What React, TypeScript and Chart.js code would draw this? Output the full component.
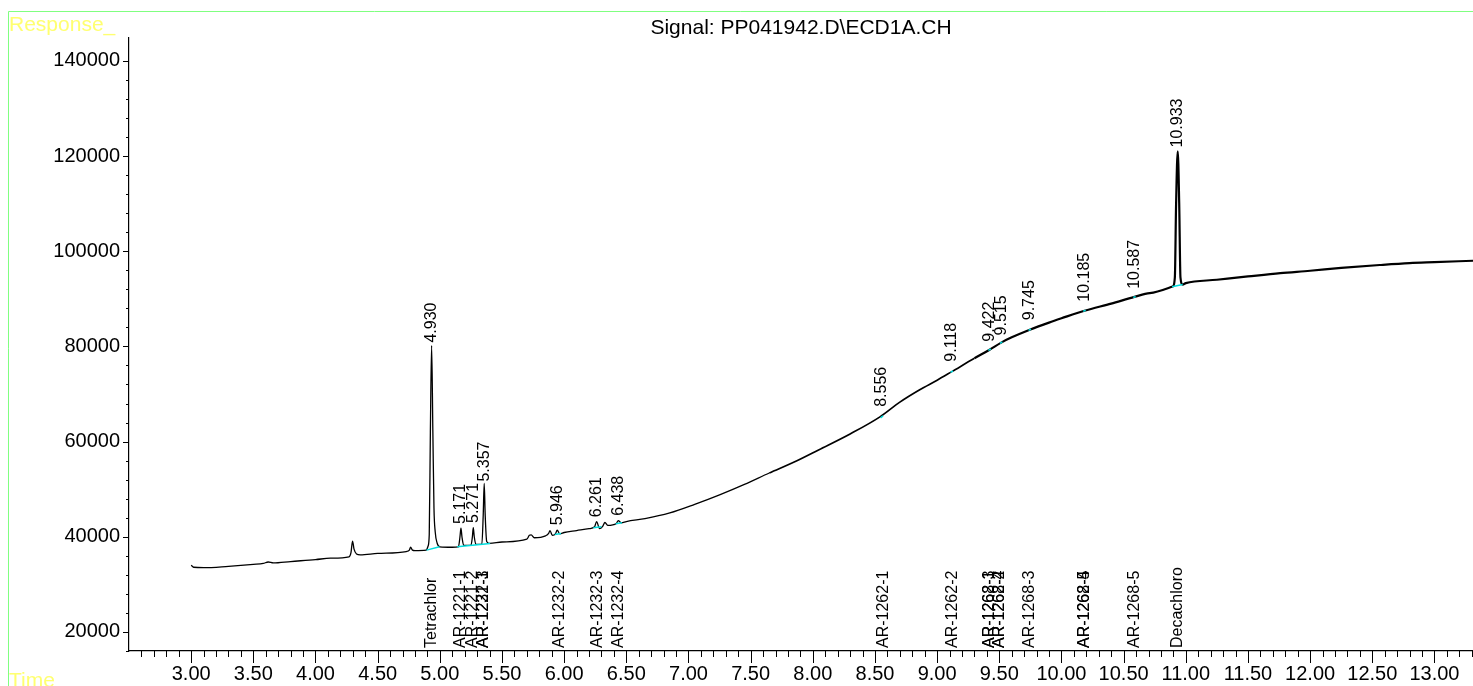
import React, { useEffect, useRef } from 'react';
import { Chart, registerables } from 'chart.js';

Chart.register(...registerables);

const TITLE = 'Signal: PP041942.D\\ECD1A.CH';
const Y_LABEL = 'Response_';
const X_LABEL = 'Time';
const FONT = '"Liberation Sans", Arial, sans-serif';

// chromatogram trace (time in min, response)
const times = [
  3.0, 3.02, 3.1, 3.3, 3.5, 3.58, 3.62, 3.66, 3.8, 4.0, 4.12, 4.27, 4.285, 4.298, 4.31, 4.33, 4.36, 4.5,
  4.73, 4.755, 4.765, 4.78, 4.8, 4.89, 4.905, 4.915, 4.924, 4.934, 4.944, 4.953, 4.963, 4.978, 5.0,
  5.1, 5.15, 5.162, 5.17, 5.178, 5.192, 5.25, 5.262, 5.269, 5.277, 5.29, 5.338, 5.349, 5.357, 5.365,
  5.377, 5.4, 5.5, 5.7, 5.72, 5.735, 5.76, 5.85, 5.875, 5.886, 5.905, 5.93, 5.944, 5.965, 6.0, 6.1,
  6.2, 6.245, 6.261, 6.285, 6.31, 6.328, 6.35, 6.42, 6.435, 6.46, 6.5, 6.65, 6.85, 7.05, 7.25, 7.45,
  7.65, 7.85, 8.05, 8.3, 8.54, 8.7, 8.86, 9.0, 9.118, 9.3, 9.422, 9.515, 9.6, 9.745, 9.9, 10.0, 10.185,
  10.4, 10.587, 10.71, 10.895, 10.912, 10.922, 10.935, 10.947, 10.957, 10.975, 11.0, 11.25, 11.5,
  11.76, 12.0, 12.25, 12.56, 12.8, 13.0, 13.31,
];
const responses = [
  34000, 33600, 33500, 33800, 34200, 34400, 34700, 34500, 34800, 35200, 35500, 35800, 36600, 39100, 37400, 36400, 36200, 36500,
  36900, 37200, 37800, 37200, 37100, 37200, 38000, 40500, 62000, 80200, 62000, 46000, 41000, 38700, 37900,
  37800, 37900, 40000, 41800, 40000, 38200, 38200, 40000, 41900, 40000, 38400, 38400, 44500, 51200, 44500,
  39000, 38600, 38900, 39500, 40300, 40400, 39800, 40200, 40700, 41300, 40300, 40600, 41400, 40600, 40900, 41300,
  41700, 42100, 43200, 41700, 42200, 43000, 42400, 42800, 43400, 42900, 43200, 43800, 45000, 46800, 48800, 51000,
  53400, 55700, 58300, 61600, 65200, 68300, 70900, 72900, 74700, 77500, 79300, 80800, 81900, 83500, 85000, 85900, 87500,
  89000, 90400, 91200, 92600, 94500, 110000, 121000, 110000, 94500, 93000, 93300, 94000, 94700,
  95400, 95900, 96500, 97100, 97500, 97700, 98000,
];

// integration baselines (cyan)
const baseStartTimes = [4.893, 5.14, 5.925, 6.235, 6.415, 8.545, 9.108, 9.412, 9.505, 9.735, 10.175, 10.577, 10.89];
const baseStartResp = [37200, 37900, 40500, 41900, 42750, 65000, 74550, 79150, 80650, 83400, 87400, 90350, 92550];
const baseEndTimes = [4.998, 5.405, 5.975, 6.3, 6.465, 8.565, 9.128, 9.432, 9.525, 9.755, 10.195, 10.597, 10.975];
const baseEndResp = [37900, 38600, 40700, 42100, 42950, 65400, 74850, 79450, 80950, 83600, 87600, 90450, 93000];

// retention time labels
const peakTimes = [4.93, 5.171, 5.271, 5.357, 5.946, 6.261, 6.438, 8.556, 9.118, 9.422, 9.515, 9.745, 10.185, 10.587, 10.933];
const peakLabels = ['4.930', '5.171', '5.271', '5.357', '5.946', '6.261', '6.438', '8.556', '9.118', '9.422', '9.515', '9.745', '10.185', '10.587', '10.933'];
const peakLabelResp = [80800, 42700, 42900, 51600, 42400, 44100, 44400, 67300, 76800, 81000, 82300, 85500, 89400, 92100, 121800];

// compound names at the bottom
const compoundNames = [
  'Tetrachlor', 'AR-1221-1', 'AR-1221-2', 'AR-1221-3', 'AR-1232-1', 'AR-1232-2', 'AR-1232-3', 'AR-1232-4',
  'AR-1262-1', 'AR-1262-2', 'AR-1262-3', 'AR-1268-1', 'AR-1262-4', 'AR-1268-2', 'AR-1268-3', 'AR-1262-5',
  'AR-1268-4', 'AR-1268-5', 'Decachloro',
];
const compoundTimes = [
  4.93, 5.171, 5.262, 5.352, 5.352, 5.962, 6.27, 6.438,
  8.566, 9.126, 9.418, 9.418, 9.506, 9.506, 9.745, 10.185,
  10.185, 10.587, 10.933,
];

const xTickValues = [3, 3.5, 4, 4.5, 5, 5.5, 6, 6.5, 7, 7.5, 8, 8.5, 9, 9.5, 10, 10.5, 11, 11.5, 12, 12.5, 13];
const xTickLabels = ['3.00', '3.50', '4.00', '4.50', '5.00', '5.50', '6.00', '6.50', '7.00', '7.50', '8.00', '8.50', '9.00', '9.50', '10.00', '10.50', '11.00', '11.50', '12.00', '12.50', '13.00'];
const yTickValues = [20000, 40000, 60000, 80000, 100000, 120000, 140000];
const yTickLabels = ['20000', '40000', '60000', '80000', '100000', '120000', '140000'];

const X_MIN = 2.5;
const X_MAX = 13.31;
const Y_MIN = 16000;
const Y_MAX = 144800;

const decorPlugin = {
  id: 'decor',
  beforeDraw(chart: any) {
    const { ctx, chartArea } = chart;
    ctx.save();
    ctx.strokeStyle = '#80ff80';
    ctx.lineWidth = 1;
    ctx.beginPath();
    ctx.moveTo(8.5, 686);
    ctx.lineTo(8.5, 11.5);
    ctx.lineTo(1473, 11.5);
    ctx.stroke();
    ctx.fillStyle = '#ffff70';
    ctx.font = `21px ${FONT}`;
    ctx.textAlign = 'left';
    ctx.textBaseline = 'alphabetic';
    ctx.fillText(Y_LABEL, 9, 31);
    ctx.fillText(X_LABEL, 9, 687);
    ctx.fillStyle = '#000';
    ctx.font = `21px ${FONT}`;
    ctx.textAlign = 'center';
    ctx.fillText(TITLE, (chartArea.left + chartArea.right) / 2, 34);
    ctx.restore();
  },
  afterDraw(chart: any) {
    const { ctx, chartArea } = chart;
    const xs = chart.scales.x;
    const ys = chart.scales.y;
    ctx.save();
    ctx.strokeStyle = '#000';
    ctx.lineWidth = 1;
    ctx.beginPath();
    for (let i = 26; i <= 133; i++) {
      const px = Math.round(xs.getPixelForValue(i / 10)) + 0.5;
      const len = i % 5 === 0 ? 12 : 6;
      ctx.moveTo(px, chartArea.bottom);
      ctx.lineTo(px, chartArea.bottom + len);
    }
    for (let v = 16000; v <= 140000; v += 4000) {
      const py = Math.round(ys.getPixelForValue(v)) + 0.5;
      const len = v % 20000 === 0 ? 6 : 3;
      ctx.moveTo(chartArea.left, py);
      ctx.lineTo(chartArea.left - len, py);
    }
    ctx.stroke();

    ctx.fillStyle = '#000';
    ctx.font = `16px ${FONT}`;
    ctx.textAlign = 'left';
    ctx.textBaseline = 'middle';
    peakLabels.forEach((lab, i) => {
      const px = xs.getPixelForValue(peakTimes[i]);
      const py = ys.getPixelForValue(peakLabelResp[i]);
      ctx.save();
      ctx.translate(px, py);
      ctx.rotate(-Math.PI / 2);
      ctx.fillText(lab, 0, 0);
      ctx.restore();
    });
    compoundNames.forEach((name, i) => {
      const px = xs.getPixelForValue(compoundTimes[i]);
      ctx.save();
      ctx.translate(px, chartArea.bottom - 3);
      ctx.rotate(-Math.PI / 2);
      ctx.fillText(name, 0, 0);
      ctx.restore();
    });
    ctx.restore();
  },
};

export default function App() {
  const ref = useRef<HTMLCanvasElement | null>(null);
  useEffect(() => {
    if (!ref.current) return;
    const trace = times.map((t, i) => ({ x: t, y: responses[i] }));
    const base: any[] = [];
    baseStartTimes.forEach((t, i) => {
      base.push({ x: t, y: baseStartResp[i] });
      base.push({ x: baseEndTimes[i], y: baseEndResp[i] });
      base.push({ x: baseEndTimes[i], y: null });
    });
    const chart = new Chart(ref.current, {
      type: 'line',
      data: {
        datasets: [
          {
            data: base,
            borderColor: '#00dede',
            borderWidth: 1.5,
            pointRadius: 0,
            spanGaps: false,
            tension: 0,
          },
          {
            data: trace,
            borderColor: '#000',
            borderWidth: 1.3,
            pointRadius: 0,
            cubicInterpolationMode: 'monotone',
            segment: {
              borderWidth: (c: any) => (c.p0.parsed.x >= 9.3 ? 2.2 : c.p0.parsed.x >= 7.5 ? 1.7 : 1.3),
            },
          },
        ],
      },
      options: {
        responsive: false,
        animation: false,
        events: [],
        layout: { padding: { top: 38, left: 0, right: 0, bottom: 0 } },
        plugins: { legend: { display: false }, tooltip: { enabled: false }, title: { display: false } },
        scales: {
          x: {
            type: 'linear',
            min: X_MIN,
            max: X_MAX,
            grid: { display: false, drawTicks: false },
            border: { display: true, color: '#000', width: 1.2 },
            ticks: {
              autoSkip: false,
              maxRotation: 0,
              padding: 11,
              color: '#000',
              font: { family: FONT, size: 20 },
              callback: (v: any) => {
                const idx = xTickValues.findIndex((t) => Math.abs(t - v) < 1e-6);
                return idx >= 0 ? xTickLabels[idx] : '';
              },
            },
            afterBuildTicks: (s: any) => {
              s.ticks = xTickValues.map((v) => ({ value: v }));
            },
            afterFit: (s: any) => {
              s.height = 35;
              s.paddingLeft = 0;
              s.paddingRight = 0;
            },
          },
          y: {
            type: 'linear',
            min: Y_MIN,
            max: Y_MAX,
            grid: { display: false, drawTicks: false },
            border: { display: true, color: '#000', width: 1.2 },
            ticks: {
              autoSkip: false,
              padding: 9,
              color: '#000',
              font: { family: FONT, size: 20 },
              callback: (v: any) => {
                const idx = yTickValues.findIndex((t) => Math.abs(t - v) < 1e-6);
                return idx >= 0 ? yTickLabels[idx] : '';
              },
            },
            afterBuildTicks: (s: any) => {
              s.ticks = yTickValues.map((v) => ({ value: v }));
            },
            afterFit: (s: any) => {
              s.width = 129;
              s.paddingTop = 0;
              s.paddingBottom = 0;
            },
          },
        },
      },
      plugins: [decorPlugin],
    });
    return () => chart.destroy();
  }, []);
  return (
    <div style={{ position: 'fixed', left: 0, top: 0, width: 1473, height: 686 }}>
      <canvas ref={ref} width={1473} height={686} style={{ display: 'block', width: 1473, height: 686 }} />
    </div>
  );
}
